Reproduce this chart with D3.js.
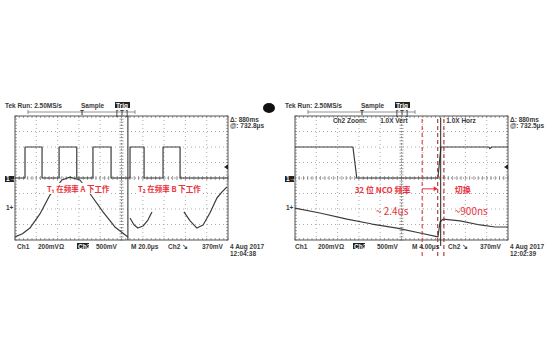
<!DOCTYPE html>
<html>
<head>
<meta charset="utf-8">
<script src="https://cdn.jsdelivr.net/npm/d3@7"></script>
<style>
  html, body { margin: 0; padding: 0; background: #fff; }
  svg { display: block; }
  .scr { font-family: "Liberation Sans", Arial, sans-serif; font-size: 6.5px; font-weight: bold; fill: #3a3a3a; }
  .note { font-family: "Noto Sans CJK SC", "Noto Sans", sans-serif; fill: #e8323c; }
</style>
</head>
<body>
<div id="chart"></div>
<script>
// ── Data (graticule divisions: x 0..10, y -4..4) ─────────────────────────

// left capture: Ch1 square wave, before and after the splice
const squareA = [[0, 0], [0.47, 0], [0.47, 2], [1.27, 2], [1.27, 0], [2.07, 0], [2.07, 2], [2.9, 2], [2.9, 0],
  [3.66, 0], [3.66, 2], [4.51, 2], [4.51, 0], [5.3, 0]];
const squareB = [[5.3, 0], [5.4, 0], [5.4, 2], [6.06, 2], [6.06, 0], [6.95, 0], [6.95, 2], [7.75, 2], [7.75, 0], [10, 0]];

// left capture: Ch2 sine pieces
const sineA = [[0, -3.8], [0.35, -3.6], [0.7, -3.23], [1.17, -2.32], [1.64, -1.1], [2.2, -0.13], [2.58, 0.06],
  [3.05, -0.13], [3.6, -1.16], [4.13, -2.19], [4.69, -3.16], [5.3, -3.8]];
const sineB1 = [[5.4, -2.58], [5.59, -3.03], [5.77, -3.23], [6.01, -3.1], [6.24, -2.71], [6.43, -2.19]];
const sineB2 = [[7.93, -2.19], [8.22, -2.77], [8.54, -3.23], [8.83, -3.03], [9.15, -2.26], [9.48, -1.29],
  [9.72, -0.9], [9.95, -0.58]];

// right capture: Ch1 step and Ch2 ramp
const stepWave = [[0, 2], [2.72, 2], [2.9, 0], [6.71, 0], [6.85, 2], [9.1, 2], [9.15, 1.9], [9.25, 2], [10, 2]];
const rampWave = [[0, -1.94], [1.17, -2.26], [2.44, -2.65], [3.62, -2.97], [4.79, -3.23], [5.87, -3.55],
  [6.71, -3.8], [6.81, -2.84], [6.95, -2.65], [7.75, -2.77], [8.69, -3.03], [9.39, -3.16], [10, -3.16]];

// right capture: cursor positions (divisions)
const redCursors = [5.97, 6.7, 6.99];
const blackCursor = 6.84;

// screen texts
const headerTexts = ['Tek Run: 2.50MS/s', 'Sample'];
const cursorTexts = [['Δ: 880ms', '@: 732.8μs'], ['Δ: 880ms', '@: 732.5μs']];
const footerLeft = ['Ch1', '200mVΩ', 'Ch2', '500mV', 'M 20.0μs', 'Ch2 ↘', '370mV'];
const footerRight = ['Ch1', '200mVΩ', 'Ch2', '500mV', 'M 4.00μs', 'Ch2 ↘', '370mV'];
const dates = [['4 Aug 2017', '12:04:38'], ['4 Aug 2017', '12:02:39']];
const zoomTexts = ['Ch2 Zoom:', '1.0X Vert', '1.0X Horz'];
const notesLeft = ['T₁ 在频率 A 下工作', 'T₂ 在频率 B 下工作'];
const notesRight = ['32 位 NCO 频率', '切换', '~ 2.4us', '~900ns'];

// ── Layout ───────────────────────────────────────────────────────────────

const W = 560, H = 350;
const PANELS = [{left: 15, top: 116, width: 213, height: 124}, {left: 295, top: 116, width: 213, height: 124}];

const svg = d3.select('#chart').append('svg').attr('width', W).attr('height', H);

const line = (x, y) => d3.line().x((d) => x(d[0])).y((d) => y(d[1]));

function drawGraticule(g, x, y)
{
	const grid = g.append('g').attr('stroke', '#9a9a9a').attr('stroke-width', 0.8);
	d3.range(1, 10).forEach((i) => grid.append('line')
	.attr('x1', x(i)).attr('x2', x(i)).attr('y1', y(4)).attr('y2', y(-4))
	.attr('stroke-dasharray', '1,3'));
	d3.range(-3, 4).forEach((j) => grid.append('line')
	.attr('x1', x(0)).attr('x2', x(10)).attr('y1', y(j)).attr('y2', y(j))
	.attr('stroke-dasharray', '1,3'));

	// minor ticks on the centre axes and on the frame
	const ticks = g.append('g').attr('stroke', '#777').attr('stroke-width', 0.7);
	d3.range(0, 10.01, 0.2).forEach((t) =>
	{
		ticks.append('line').attr('x1', x(t)).attr('x2', x(t)).attr('y1', y(0) - 2).attr('y2', y(0) + 2);
		ticks.append('line').attr('x1', x(t)).attr('x2', x(t)).attr('y1', y(4)).attr('y2', y(4) + 2);
		ticks.append('line').attr('x1', x(t)).attr('x2', x(t)).attr('y1', y(-4)).attr('y2', y(-4) - 2);
	});
	d3.range(-4, 4.01, 0.2).forEach((t) =>
	{
		ticks.append('line').attr('y1', y(t)).attr('y2', y(t)).attr('x1', x(5) - 2).attr('x2', x(5) + 2);
		ticks.append('line').attr('y1', y(t)).attr('y2', y(t)).attr('x1', x(0)).attr('x2', x(0) + 2);
		ticks.append('line').attr('y1', y(t)).attr('y2', y(t)).attr('x1', x(10)).attr('x2', x(10) - 2);
	});
	ticks.append('line').attr('x1', x(0)).attr('x2', x(10)).attr('y1', y(0)).attr('y2', y(0)).attr('stroke-dasharray', '1,2');
	ticks.append('line').attr('x1', x(5)).attr('x2', x(5)).attr('y1', y(4)).attr('y2', y(-4)).attr('stroke-dasharray', '1,2');

	g.append('rect').attr('x', x(0)).attr('y', y(4)).attr('width', x(10) - x(0)).attr('height', y(-4) - y(4))
	.attr('fill', 'none').attr('stroke', '#555').attr('stroke-width', 1);
}

function drawTrace(g, x, y, data)
{
	g.append('path').datum(data).attr('d', line(x, y))
	.attr('fill', 'none').attr('stroke', '#3c3c3c').attr('stroke-width', 1.2).attr('stroke-linejoin', 'round');
}

function drawFrameText(g, p, texts, footer, date, idx)
{
	const L = p.left, B = p.top + p.height;
	g.append('text').attr('class', 'scr').attr('x', L - 10).attr('y', 108).text(texts[0]);
	g.append('text').attr('class', 'scr').attr('x', L + 66).attr('y', 108).text(texts[1]);
	g.append('rect').attr('x', L + 100).attr('y', 102).attr('width', 15).attr('height', 6).attr('fill', '#222');
	g.append('text').attr('class', 'scr').attr('x', L + 101).attr('y', 107.5).attr('font-size', 5).style('fill', '#fff').text('Trig');

	// trigger position bar
	const bar = g.append('g').attr('stroke', '#666').attr('stroke-width', 0.7);
	bar.append('line').attr('x1', L + 13).attr('x2', L + 120).attr('y1', 112).attr('y2', 112);
	bar.append('line').attr('x1', L + 13).attr('x2', L + 13).attr('y1', 110).attr('y2', 114);
	bar.append('line').attr('x1', L + 120).attr('x2', L + 120).attr('y1', 110).attr('y2', 114);
	g.append('text').attr('class', 'scr').attr('x', L + 65).attr('y', 115).text('T');
	g.append('text').attr('class', 'scr').attr('x', L + 101).attr('y', 115).text('[ T ]');

	g.append('text').attr('class', 'scr').attr('x', L + p.width + 2).attr('y', 122).text(cursorTexts[idx][0]);
	g.append('text').attr('class', 'scr').attr('x', L + p.width + 2).attr('y', 128).text(cursorTexts[idx][1]);

	// ground + trigger markers
	g.append('rect').attr('x', L - 10).attr('y', 176).attr('width', 9).attr('height', 6).attr('fill', '#222');
	g.append('text').attr('class', 'scr').attr('x', L - 9).attr('y', 181).attr('font-size', 5.5).style('fill', '#fff').text('1→');
	g.append('text').attr('class', 'scr').attr('x', L - 9).attr('y', 210).text('1+');
	g.append('path').attr('d', `M${L + p.width - 4},167 l4,-2.5 v5 z`).attr('fill', '#222');

	const fx = idx === 0 ? [2, 23, 62, 81, 116, 153, 187] : [0, 23, 58, 82, 117, 153, 185];
	footer.forEach((t, i) =>
	{
		if(i === 2)
		{
			g.append('rect').attr('x', L + fx[i]).attr('y', B + 3).attr('width', 12).attr('height', 6).attr('fill', '#222');
			g.append('text').attr('class', 'scr').attr('x', L + fx[i] + 1).attr('y', B + 8.5).style('fill', '#fff').text(t);
		}
		else
		{
			g.append('text').attr('class', 'scr').attr('x', L + fx[i]).attr('y', B + 9).text(t);
		}
	});
	g.append('text').attr('class', 'scr').attr('x', L + p.width + 2).attr('y', B + 9).text(date[0]);
	g.append('text').attr('class', 'scr').attr('x', L + p.width + 2).attr('y', B + 16).text(date[1]);
}

function noteWithBack(g, xPos, yPos, text, size)
{
	const t = g.append('text').attr('class', 'note').attr('x', xPos).attr('y', yPos)
	.attr('font-size', size).attr('font-weight', 'bold').text(text);
	const bb = t.node().getBBox();
	g.insert('rect', () => t.node()).attr('x', bb.x - 1).attr('y', bb.y).attr('width', bb.width + 2)
	.attr('height', bb.height).attr('fill', '#fff');
}

// ── Left capture ─────────────────────────────────────────────────────────
{
	const p = PANELS[0];
	const x = d3.scaleLinear([0, 10], [p.left, p.left + p.width]);
	const y = d3.scaleLinear([-4, 4], [p.top + p.height, p.top]);
	const g = svg.append('g');
	drawGraticule(g, x, y);
	[squareA, squareB, sineA, sineB1, sineB2].forEach((d) => drawTrace(g, x, y, d));
	// splice line
	g.append('line').attr('x1', x(5.3)).attr('x2', x(5.3)).attr('y1', y(4)).attr('y2', y(-4))
	.attr('stroke', '#333').attr('stroke-width', 1.1);
	noteWithBack(g, x(1.5), y(-0.9), notesLeft[0], 7.5);
	noteWithBack(g, x(5.78), y(-0.9), notesLeft[1], 7.5);
	drawFrameText(g, p, headerTexts, footerLeft, dates[0], 0);
}

// ── Right capture ────────────────────────────────────────────────────────
{
	const p = PANELS[1];
	const x = d3.scaleLinear([0, 10], [p.left, p.left + p.width]);
	const y = d3.scaleLinear([-4, 4], [p.top + p.height, p.top]);
	const g = svg.append('g');
	drawGraticule(g, x, y);
	[stepWave, rampWave].forEach((d) => drawTrace(g, x, y, d));

	g.append('text').attr('class', 'scr').attr('x', x(1.78)).attr('y', 123).text(zoomTexts[0]);
	g.append('text').attr('class', 'scr').attr('x', x(4.0)).attr('y', 123).text(zoomTexts[1]);
	g.append('text').attr('class', 'scr').attr('x', x(7.1)).attr('y', 123).text(zoomTexts[2]);

	redCursors.forEach((c, i) => g.append('line').attr('x1', x(c)).attr('x2', x(c))
	.attr('y1', y(3.8)).attr('y2', y(-4) + 19)
	.attr('stroke', i === 0 ? '#d8393f' : '#a8302c').attr('stroke-width', 1.1).attr('stroke-dasharray', '4,3'));
	g.append('line').attr('x1', x(blackCursor)).attr('x2', x(blackCursor)).attr('y1', y(3.9)).attr('y2', y(-4) + 6)
	.attr('stroke', '#222').attr('stroke-width', 1);

	// arrow towards the switch
	g.append('path').attr('d', `M${x(redCursors[0])},${y(-0.7)} H${x(redCursors[1]) - 1}`)
	.attr('stroke', '#e8323c').attr('stroke-width', 1);
	g.append('path').attr('d', `M${x(redCursors[1])},${y(-0.7)} l-4,-2.5 v5 z`).attr('fill', '#e8323c');

	g.append('text').attr('class', 'note').attr('x', x(2.8)).attr('y', y(-0.95)).attr('font-size', 8).attr('font-weight', 'bold').text(notesRight[0]);
	g.append('text').attr('class', 'note').attr('x', x(7.5)).attr('y', y(-0.95)).attr('font-size', 8).attr('font-weight', 'bold').text(notesRight[1]);
	g.append('text').attr('class', 'note').attr('x', x(3.8)).attr('y', y(-2.4)).attr('font-size', 10).text(notesRight[2]);
	g.append('text').attr('class', 'note').attr('x', x(7.5)).attr('y', y(-2.4)).attr('font-size', 10).text(notesRight[3]);

	drawFrameText(g, p, headerTexts, footerRight, dates[1], 1);
}

// scope logo blob between the captures
svg.append('ellipse').attr('cx', 269).attr('cy', 108).attr('rx', 6).attr('ry', 5).attr('fill', '#111');
</script>
</body>
</html>
